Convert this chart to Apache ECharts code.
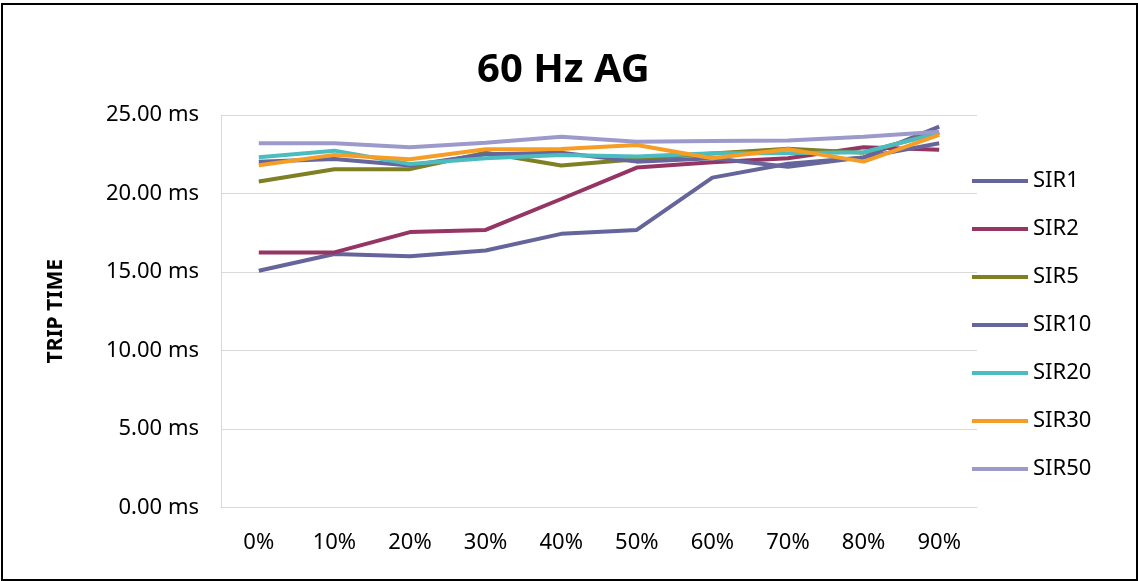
<!DOCTYPE html>
<html>
<head>
<meta charset="utf-8">
<script src="https://cdn.jsdelivr.net/npm/echarts@6/dist/echarts.min.js"></script>
<style>
  html, body { margin: 0; padding: 0; background: #fff; }
  #frame {
    position: absolute; left: 1px; top: 3px;
    width: 1133px; height: 574px;
    border: 2px solid #000;
  }
  #chart { position: absolute; left: -3px; top: -5px; width: 1138px; height: 581px; }
</style>
</head>
<body>
<div id="frame"><div id="chart"></div></div>
<script>
const categories = ["0%", "10%", "20%", "30%", "40%", "50%", "60%", "70%", "80%", "90%"];
const sir1 = [15.08, 16.15, 16.0, 16.37, 17.43, 17.68, 21.01, 21.9, 22.3, 24.26];
const sir2 = [16.25, 16.25, 17.54, 17.68, 19.65, 21.65, 21.99, 22.24, 22.94, 22.78];
const sir5 = [20.76, 21.55, 21.55, 22.6, 21.78, 22.18, 22.55, 22.85, 22.6, 23.9];
const sir10 = [22.03, 22.2, 21.78, 22.5, 22.6, 22.03, 22.24, 21.7, 22.3, 23.2];
const sir20 = [22.31, 22.73, 21.88, 22.24, 22.46, 22.35, 22.56, 22.56, 22.63, 23.85];
const sir30 = [21.8, 22.46, 22.18, 22.82, 22.84, 23.09, 22.24, 22.82, 22.03, 23.73];
const sir50 = [23.2, 23.2, 22.95, 23.24, 23.62, 23.3, 23.35, 23.37, 23.62, 23.94];
const yTicks = [0, 5, 10, 15, 20, 25];

const seriesDefs = [
  { name: "SIR1", data: sir1, color: "#65659b" },
  { name: "SIR2", data: sir2, color: "#953563" },
  { name: "SIR5", data: sir5, color: "#7f7f23" },
  { name: "SIR10", data: sir10, color: "#66669c" },
  { name: "SIR20", data: sir20, color: "#4bbdc1" },
  { name: "SIR30", data: sir30, color: "#f59d25" },
  { name: "SIR50", data: sir50, color: "#9c9acb" },
];

const font = "'Noto Sans', sans-serif";
const myChart = echarts.init(document.getElementById("chart"));

const option = {
  animation: false,
  title: {
    text: "60 Hz AG",
    left: 472,
    top: 46,
    textStyle: { fontFamily: font, fontSize: 40, fontWeight: "bold", color: "#000" },
  },
  grid: { left: 221, right: 161, top: 115, bottom: 73.5 },
  legend: {
    orient: "vertical",
    left: 967,
    top: 165,
    icon: "rect",
    itemWidth: 56,
    itemHeight: 4,
    itemGap: 26,
    textStyle: { fontFamily: font, fontSize: 22, color: "#000" },
    data: seriesDefs.map((s) => s.name),
  },
  xAxis: {
    type: "category",
    data: categories,
    axisLine: { lineStyle: { color: "#d9d9d9" } },
    axisTick: { show: false },
    axisLabel: { fontFamily: font, fontSize: 22, color: "#000", margin: 24 },
  },
  yAxis: {
    type: "value",
    min: yTicks[0],
    max: yTicks[yTicks.length - 1],
    interval: 5,
    name: "TRIP TIME",
    nameLocation: "middle",
    nameRotate: 90,
    nameGap: 154,
    nameTextStyle: { fontFamily: font, fontSize: 21, fontWeight: "bold", color: "#000" },
    axisLine: { show: true, lineStyle: { color: "#d9d9d9" } },
    axisTick: { show: false },
    splitLine: { lineStyle: { color: "#d9d9d9" } },
    axisLabel: {
      fontFamily: font,
      fontSize: 22,
      color: "#000",
      margin: 22,
      formatter: (v) => v.toFixed(2) + " ms",
    },
  },
  series: seriesDefs.map((s) => ({
    name: s.name,
    type: "line",
    data: s.data,
    symbol: "none",
    color: s.color,
    lineStyle: { width: 4, color: s.color },
  })),
};

option && myChart.setOption(option);
</script>
</body>
</html>
